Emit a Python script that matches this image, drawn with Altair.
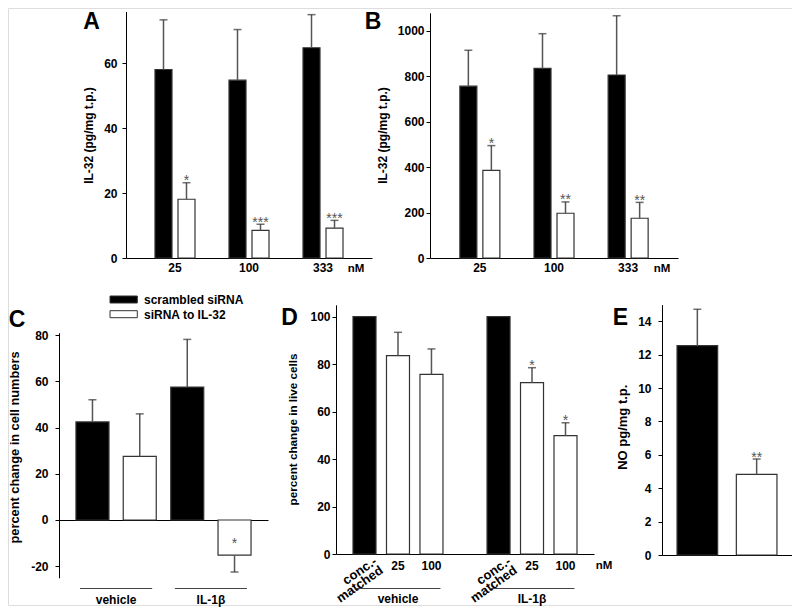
import altair as alt
import pandas as pd

FONT = "Liberation Sans"

SERIES = ["scrambled siRNA", "siRNA to IL-32"]
FILL_RANGE = ["#000000", "#ffffff"]

# ---- Panel A : IL-32 (pg/mg t.p.) ----
A_conc = ["25", "100", "333"]
A_scr = [58.1, 54.8, 64.8]
A_scr_sem = [15.3, 15.6, 10.2]
A_si = [18.1, 8.5, 9.2]
A_si_sem = [5.1, 1.9, 2.4]
A_sig = ["*", "***", "***"]
A_ticks = [0, 20, 40, 60]

# ---- Panel B ----
B_conc = ["25", "100", "333"]
B_scr = [757, 835, 806]
B_scr_sem = [158, 153, 261]
B_si = [386, 197, 175]
B_si_sem = [109, 50, 70]
B_sig = ["*", "**", "**"]
B_ticks = [0, 200, 400, 600, 800, 1000]

# ---- Panel C : percent change in cell numbers ----
C_treat = ["vehicle", "IL-1β"]
C_scr = [42.4, 57.5]
C_scr_sem = [9.6, 20.6]
C_si = [27.5, -15.2]
C_si_sem = [18.4, 7.3]
C_sig = ["", "*"]
C_ticks = [-20, 0, 20, 40, 60, 80]

# ---- Panel D : percent change in live cells ----
D_treat = ["vehicle", "IL-1β"]
D_items = ["conc.-matched", "25", "100"]
D_vehicle = [100, 83.6, 75.7]
D_vehicle_sem = [0, 9.8, 10.7]
D_il1b = [100, 72.2, 49.9]
D_il1b_sem = [0, 6.3, 5.4]
D_sig_vehicle = ["", "", ""]
D_sig_il1b = ["", "*", "*"]
D_ticks = [0, 20, 40, 60, 80, 100]

# ---- Panel E : NO pg/mg t.p. ----
E_mean = [12.54, 4.83]
E_sem = [2.18, 0.92]
E_sig = ["", "**"]
E_ticks = [0, 2, 4, 6, 8, 10, 12, 14]

FILL_SCALE = alt.Scale(domain=SERIES, range=FILL_RANGE)


def grouped_frame(groups, scr, scr_sem, si, si_sem, sig):
    rows = []
    for g, m, s in zip(groups, scr, scr_sem):
        rows.append({"group": g, "series": SERIES[0], "mean": m, "sem": s, "sig": ""})
    for g, m, s, k in zip(groups, si, si_sem, sig):
        rows.append({"group": g, "series": SERIES[1], "mean": m, "sem": s, "sig": k})
    df = pd.DataFrame(rows)
    df["hi"] = df["mean"] + df["sem"].where(df["mean"] >= 0, -df["sem"])
    return df


def d_frame():
    rows = []
    for g, vals, sems, sigs in [("vehicle", D_vehicle, D_vehicle_sem, D_sig_vehicle),
                                ("IL-1β", D_il1b, D_il1b_sem, D_sig_il1b)]:
        for it, m, s, k in zip(D_items, vals, sems, sigs):
            rows.append({"group": g, "item": it,
                         "series": SERIES[0] if it == D_items[0] else SERIES[1],
                         "mean": m, "sem": s, "sig": k,
                         "label": "conc.-\nmatched" if it == D_items[0] else it})
    df = pd.DataFrame(rows)
    df["hi"] = df["mean"] + df["sem"]
    return df


def y_axis(title, values, offset, label_pad, title_pad, title_y, title_size):
    return alt.Axis(orient="left", title=title, values=values, offset=offset, grid=False,
                    domainColor="black", domainWidth=1, ticks=True, tickColor="black",
                    tickSize=4, tickWidth=1, labelFont=FONT, labelFontSize=12,
                    labelFontWeight="bold", labelColor="black", labelPadding=label_pad,
                    labelExpr="'' + datum.value",
                    titleFont=FONT, titleFontSize=title_size, titleFontWeight="bold",
                    titleColor="black", titlePadding=title_pad, titleY=title_y,
                    titleAngle=270, titleBaseline="bottom", minExtent=0, maxExtent=0)


def x_axis(offset, label_pad, labels=True):
    return alt.Axis(orient="bottom", title=None, offset=offset, grid=False,
                    domainColor="black", domainWidth=1, ticks=False, tickSize=0,
                    labels=labels, labelAngle=0, labelFont=FONT, labelFontSize=12,
                    labelFontWeight="bold", labelColor="black", labelPadding=label_pad,
                    minExtent=0, maxExtent=0)


def bar_layers(df, X, XO, Y, star_dy=2.5, star_on_hi=True):
    enc = {"x": X}
    if XO is not None:
        enc["xOffset"] = XO
    base = alt.Chart(df)
    bars = base.mark_bar(stroke="#333333", strokeWidth=1.2).encode(
        y=Y("mean"), fill=alt.Fill("series:N", scale=FILL_SCALE, legend=None), **enc)
    errs_df = df[df["sem"] > 0]
    rule = alt.Chart(errs_df).mark_rule(color="#555555", strokeWidth=1.5).encode(
        y=Y("mean"), y2=alt.Y2("hi:Q"), **enc)
    cap = alt.Chart(errs_df).mark_tick(color="#333333", size=8, thickness=1.5).encode(
        y=Y("hi"), **enc)
    stars_df = df[df["sig"] != ""]
    stars = alt.Chart(stars_df).mark_text(font=FONT, fontSize=14, color="#555555",
                                          baseline="alphabetic", dy=star_dy).encode(
        y=Y("hi" if star_on_hi else "mean"), text="sig:N", **enc)
    return [bars, rule, cap, stars]


def make_Y(domain, rng, axis):
    def Y(field):
        return alt.Y(f"{field}:Q", scale=alt.Scale(domain=domain, range=rng, nice=False, zero=False),
                     axis=axis)
    return Y


# ---------- Panel A ----------
dfA = grouped_frame(A_conc, A_scr, A_scr_sem, A_si, A_si_sem, A_sig)
XA = alt.X("group:N", scale=alt.Scale(domain=A_conc, range=[118, 364], paddingInner=0.2, paddingOuter=0.262),
           axis=x_axis(-347, 4.8))
XOA = alt.XOffset("series:N", scale=alt.Scale(domain=SERIES, paddingInner=0.261, paddingOuter=0.4175))
YA = make_Y([0, 76], [250, 3.4], y_axis("IL-32 (pg/mg t.p.)", A_ticks, -118, 5, 30.4, 127, 12))
panelA = alt.layer(*bar_layers(dfA, XA, XOA, YA))

# ---------- Panel B ----------
dfB = grouped_frame(B_conc, B_scr, B_scr_sem, B_si, B_si_sem, B_sig)
XB = alt.X("group:N", scale=alt.Scale(domain=B_conc, range=[422, 670], paddingInner=0.2, paddingOuter=0.2725),
           axis=x_axis(-347, 4.8))
XOB = alt.XOffset("series:N", scale=alt.Scale(domain=SERIES, paddingInner=0.261, paddingOuter=0.4196))
YB = make_Y([0, 1080], [250, 4.8], y_axis("IL-32 (pg/mg t.p.)", B_ticks, -422, 2, 40.7, 127, 12))
panelB = alt.layer(*bar_layers(dfB, XB, XOB, YB))

# ---------- Panel C ----------
dfC = grouped_frame(C_treat, C_scr, C_scr_sem, C_si, C_si_sem, C_sig)
XC = alt.X("group:N", scale=alt.Scale(domain=C_treat, range=[51, 260], paddingInner=0.135, paddingOuter=0.17),
           axis=x_axis(-85, 74.8))
XOC = alt.XOffset("series:N", scale=alt.Scale(domain=SERIES, paddingInner=0.302, paddingOuter=0.018))
YC = make_Y([-25, 81], [569.8, 324.7],
            y_axis("percent change in cell numbers", C_ticks, -51, 7, 37.1, 439, 12.8))
c_layers = bar_layers(dfC[dfC["mean"] >= 0], XC, XOC, YC)
c_neg = dfC[dfC["mean"] < 0]
c_layers += bar_layers(c_neg.assign(sig=""), XC, XOC, YC)[:3]
c_star = alt.Chart(c_neg).mark_text(font=FONT, fontSize=14, color="#555555",
                                    baseline="alphabetic", dy=-7).encode(
    x=XC, xOffset=XOC, y=YC("mean"), text="sig:N")
c_lines = alt.Chart(pd.DataFrame({"group": C_treat})).mark_bar(
    color="#444444", width=alt.RelativeBandSize(0.88)).encode(
    x=XC, y=alt.value(580), y2=alt.value(581))
panelC = alt.layer(*c_layers, c_star, c_lines)

# ---------- Panel D ----------
dfD = d_frame()
XD = alt.X("group:N", scale=alt.Scale(domain=D_treat, range=[328, 586], paddingInner=0.284, paddingOuter=0.1045),
           axis=x_axis(-51, 39.8))
XOD = alt.XOffset("item:N", scale=alt.Scale(domain=D_items, paddingInner=0.313, paddingOuter=0.0895))
YD = make_Y([0, 105], [546, 296.8],
            y_axis("percent change in live cells", D_ticks, -328, 2, 37.3, 421, 11.7))
d_layers = bar_layers(dfD, XD, XOD, YD)
d_rot = alt.Chart(dfD[dfD["item"] == D_items[0]]).mark_text(
    font=FONT, fontSize=13, fontWeight="bold", angle=325, align="right", baseline="top",
    lineBreak="\n", lineHeight=11, dx=6.1, dy=4.3).encode(
    x=XD, xOffset=XOD, y=alt.value(547), text="label:N")
d_num = alt.Chart(dfD[dfD["item"] != D_items[0]]).mark_text(
    font=FONT, fontSize=12, fontWeight="bold", align="center", baseline="middle").encode(
    x=XD, xOffset=XOD, y=alt.value(557.7), text="label:N")
d_lines = alt.Chart(pd.DataFrame({"group": D_treat})).mark_bar(
    color="#444444", width=alt.RelativeBandSize(0.885)).encode(
    x=XD, y=alt.value(580), y2=alt.value(581))
panelD = alt.layer(*d_layers, d_rot, d_num, d_lines)

# ---------- Panel E ----------
dfE = pd.DataFrame({"series": SERIES, "mean": E_mean, "sem": E_sem, "sig": E_sig})
dfE["hi"] = dfE["mean"] + dfE["sem"]
XE = alt.X("series:N", scale=alt.Scale(domain=SERIES, range=[654, 784], paddingInner=0.315, paddingOuter=0.2536),
           axis=x_axis(-50, 0, labels=False))
YE = make_Y([0, 15], [547, 296.6], y_axis("NO pg/mg t.p.", E_ticks, -654, 7, 32.4, 418.7, 13))
panelE = alt.layer(*bar_layers(dfE, XE, None, YE))


# ---------- annotations ----------
def label(txt, x, y, size=12, align="center", baseline="middle"):
    return alt.Chart(pd.DataFrame({"t": [txt]})).mark_text(
        font=FONT, fontSize=size, fontWeight="bold", color="black", align=align, baseline=baseline).encode(
        text="t:N", x=alt.value(x), y=alt.value(y))


letters = [label("A", 83.5, 2.8, 23, baseline="top"), label("B", 365, 2.8, 23, baseline="top"),
           label("C", 9, 311.9, 23),
           label("D", 281.5, 309.9, 23), label("E", 612.5, 309.9, 23)]
units = [label("nM", 348, 260.7, 11.5), label("nM", 654, 260.7, 11.5), label("nM", 596, 558.4, 11.5)]

legend_items = []
for s, y0 in zip(SERIES, [288, 302.7]):
    legend_items.append(alt.Chart(pd.DataFrame({"series": [s]})).mark_rect(
        stroke="#333333", strokeWidth=1).encode(
        x=alt.value(102), x2=alt.value(129.3), y=alt.value(y0), y2=alt.value(y0 + 7),
        fill=alt.Fill("series:N", scale=FILL_SCALE, legend=None)))
    legend_items.append(alt.Chart(pd.DataFrame({"series": [s]})).mark_text(
        font=FONT, fontSize=12, fontWeight="bold", color="black", align="left", baseline="middle").encode(
        text="series:N", x=alt.value(136), y=alt.value(y0 + 4.2)))

chart = alt.layer(panelA, panelB, panelC, panelD, panelE, *letters, *units, *legend_items).resolve_scale(
    x="independent", y="independent", xOffset="independent").resolve_axis(
    x="independent", y="independent").properties(
    width=784, height=597, autosize=alt.AutoSizeParams(type="none"),
    padding={"left": 0, "top": 0, "right": 0, "bottom": 8}).configure_view(
    stroke="transparent").configure(font=FONT)

chart.save("out.html", embed_options={"renderer": "svg", "actions": False})
